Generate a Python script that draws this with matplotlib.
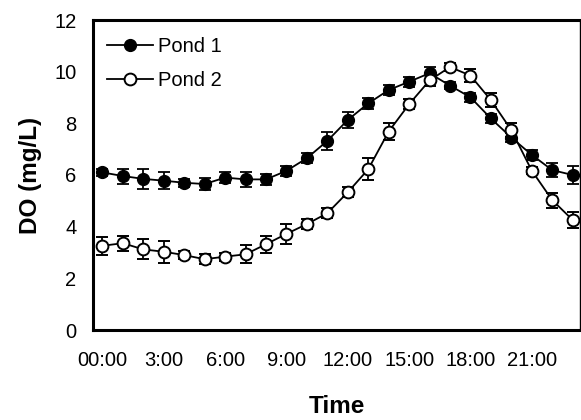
"""Diel dissolved oxygen in two ponds."""

import matplotlib
matplotlib.use('Agg')
import matplotlib.pyplot as plt

plt.rcParams['font.family'] = ['Liberation Sans', 'DejaVu Sans']

# hours of the day (one sample per hour)
hours = list(range(24))
tick_hours = [0, 3, 6, 9, 12, 15, 18, 21]
tick_labels = ['00:00', '3:00', '6:00', '9:00', '12:00', '15:00', '18:00',
               '21:00']

pond1 = [6.10, 5.96, 5.85, 5.78, 5.70, 5.65, 5.90, 5.83, 5.83, 6.16,
         6.65, 7.32, 8.13, 8.77, 9.29, 9.61, 9.94, 9.46, 9.01, 8.19,
         7.45, 6.78, 6.19, 6.00]
pond1_err = [0.15, 0.29, 0.40, 0.32, 0.15, 0.22, 0.20, 0.28, 0.20, 0.20,
             0.20, 0.34, 0.32, 0.20, 0.20, 0.20, 0.25, 0.15, 0.18, 0.18,
             0.18, 0.18, 0.27, 0.35]

pond2 = [3.26, 3.36, 3.12, 3.03, 2.90, 2.74, 2.84, 2.93, 3.32, 3.72,
         4.10, 4.52, 5.33, 6.22, 7.68, 8.74, 9.66, 10.18, 9.85, 8.90,
         7.74, 6.17, 5.03, 4.26]
pond2_err = [0.35, 0.29, 0.39, 0.42, 0.15, 0.20, 0.15, 0.35, 0.32, 0.39,
             0.20, 0.20, 0.20, 0.43, 0.32, 0.20, 0.20, 0.15, 0.25, 0.26,
             0.26, 0.15, 0.29, 0.32]

fig = plt.figure(figsize=(5.81, 4.20), dpi=100)
ax = fig.add_axes([93 / 581, 1 - 330 / 420, 487 / 581, 310 / 420])

ax.errorbar(hours, pond1, yerr=pond1_err, color='black', marker='o',
            markersize=8.5, markerfacecolor='black', markeredgecolor='black',
            linewidth=1.3, elinewidth=1.3, capsize=4.5, capthick=1.3,
            label='Pond 1', zorder=3)
ax.errorbar(hours, pond2, yerr=pond2_err, color='black', marker='o',
            markersize=8.5, markerfacecolor='white', markeredgecolor='black',
            markeredgewidth=1.4, linewidth=1.3, elinewidth=1.3, capsize=4.5,
            capthick=1.3, label='Pond 2', zorder=4)

ax.set_xlim(-0.46, 23.36)
ax.set_ylim(0, 12)
ax.set_yticks([0, 2, 4, 6, 8, 10, 12])
ax.set_xticks(tick_hours)
ax.set_xticklabels(tick_labels)
ax.tick_params(length=0, labelsize=14.5)
ax.tick_params(axis='x', pad=15)
ax.tick_params(axis='y', pad=12)

for side in ['left', 'bottom', 'top']:
    ax.spines[side].set_linewidth(2.2)
ax.spines['right'].set_linewidth(1.0)

ax.set_xlabel('Time', fontsize=17.5, fontweight='bold', labelpad=18)
ax.set_ylabel('DO (mg/L)', fontsize=17.5, fontweight='bold', labelpad=9)

handles, labels = ax.get_legend_handles_labels()
handles = [h[0] for h in handles]  # line+marker only, no error bars
ax.legend(handles, labels, loc='upper left', frameon=False, fontsize=14.5,
          handlelength=2.3, handletextpad=0.25, labelspacing=0.75,
          borderaxespad=0.0, bbox_to_anchor=(0.012, 0.972))

fig.savefig('out.png', dpi=100)
